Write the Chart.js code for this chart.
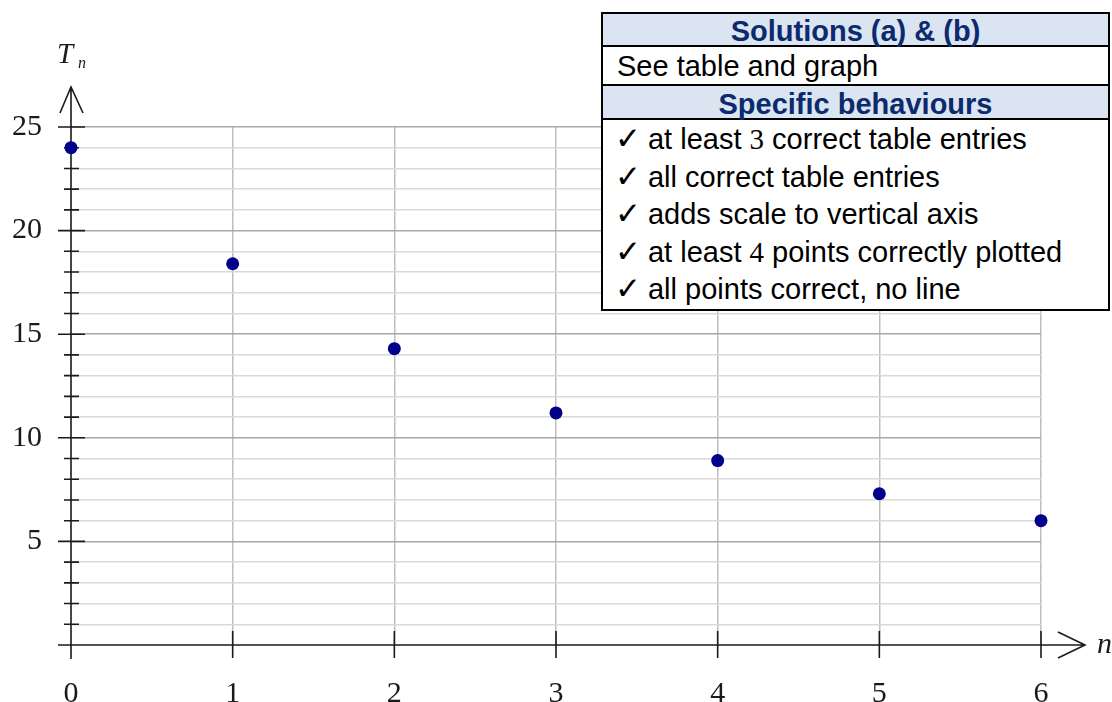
<!DOCTYPE html>
<html>
<head>
<meta charset="utf-8">
<script src="https://cdn.jsdelivr.net/npm/chart.js@4"></script>
<style>
  html, body { margin: 0; padding: 0; background: #fff; }
  #wrap { position: relative; width: 1112px; height: 702px; overflow: hidden; }
  #chart { position: absolute; left: 0; top: 0; }
  #marks {
    position: absolute; left: 601px; top: 12px; width: 505px;
    border: 2px solid #000; background: #fff;
    font-family: "Liberation Sans", Arial, sans-serif; color: #000;
  }
  #marks .hd {
    background: #dbe5f1; color: #0c2a6e; font-weight: bold; text-align: center;
    font-size: 29px; border-bottom: 2px solid #000; white-space: nowrap;
  }
  #marks .row { font-size: 29px; padding-left: 14px; border-bottom: 2px solid #000; white-space: nowrap; }
  #marks .list { font-size: 29px; padding-left: 12px; white-space: nowrap; }
  #marks .list div { height: 37.5px; line-height: 37.5px; }
  #marks .num { font-family: "Liberation Serif", serif; }
  #marks .tick { font-family: "DejaVu Sans", sans-serif; font-size: 31px; margin-right: 7px; }
</style>
</head>
<body>
<div id="wrap">
  <canvas id="chart" width="1112" height="702"></canvas>
  <div id="marks">
    <div class="hd" style="height:31px;line-height:35px;">Solutions (a) &amp; (b)</div>
    <div class="row" style="height:37px;line-height:39px;">See table and graph</div>
    <div class="hd" style="height:32px;line-height:36px;">Specific behaviours</div>
    <div class="list" style="height:189px;">
      <div><span class="tick">✓</span>at least <span class="num">3</span> correct table entries</div>
      <div><span class="tick">✓</span>all correct table entries</div>
      <div><span class="tick">✓</span>adds scale to vertical axis</div>
      <div><span class="tick">✓</span>at least <span class="num">4</span> points correctly plotted</div>
      <div><span class="tick">✓</span>all points correct, no line</div>
    </div>
  </div>
</div>
<script>
// values
const nValues = [0, 1, 2, 3, 4, 5, 6];
const tValues = [24, 18.4, 14.3, 11.2, 8.9, 7.3, 6.0];
const yLabelValues = [5, 10, 15, 20, 25];
const xLabelValues = [0, 1, 2, 3, 4, 5, 6];

const axisFont = { family: "Liberation Serif", size: 30 };

// axes with arrows and tick marks crossing the axis lines
const axesPlugin = {
  id: 'axes',
  beforeDatasetsDraw(chart) {
    const ctx = chart.ctx;
    const xs = chart.scales.x, ys = chart.scales.y;
    const x0 = xs.getPixelForValue(0);
    const y0 = ys.getPixelForValue(0);
    ctx.save();
    ctx.strokeStyle = '#1a1a1a';
    ctx.lineWidth = 1.6;
    ctx.beginPath();
    // vertical axis + arrow head
    ctx.moveTo(x0, y0 + 14); ctx.lineTo(x0, 87);
    ctx.moveTo(x0 - 11, 113); ctx.lineTo(x0, 87); ctx.lineTo(x0 + 12, 113);
    // horizontal axis + arrow head
    ctx.moveTo(x0 - 13, y0); ctx.lineTo(1085, y0);
    ctx.moveTo(1058, y0 - 13); ctx.lineTo(1085, y0); ctx.lineTo(1058, y0 + 13);
    // y tick marks
    for (let v = 1; v <= 25; v++) {
      const py = ys.getPixelForValue(v);
      const big = yLabelValues.includes(v);
      ctx.moveTo(x0 - (big ? 13 : 7), py);
      ctx.lineTo(x0 + (big ? 14 : 8), py);
    }
    // x tick marks
    xLabelValues.forEach(n => {
      if (n === 0) return;
      const px = xs.getPixelForValue(n);
      ctx.moveTo(px, y0 - 14); ctx.lineTo(px, y0 + 13);
    });
    ctx.stroke();

    // axis names
    ctx.fillStyle = '#1a1a1a';
    ctx.textBaseline = 'alphabetic';
    ctx.font = 'italic 29px "Liberation Serif"';
    ctx.fillText('T', 57, 63);
    ctx.font = 'italic 16px "Liberation Serif"';
    ctx.fillText('n', 78, 68);
    ctx.font = 'italic 30px "Liberation Serif"';
    ctx.fillText('n', 1097, 653);
    ctx.restore();
  }
};

new Chart(document.getElementById('chart'), {
  type: 'scatter',
  data: {
    datasets: [{
      data: nValues.map((n, i) => ({ x: n, y: tValues[i] })),
      backgroundColor: '#00008b',
      borderWidth: 0,
      pointRadius: 6.5,
      showLine: false,
      clip: false
    }]
  },
  options: {
    responsive: false,
    animation: false,
    layout: { padding: { left: 0, right: 71, top: 127, bottom: 0 } },
    plugins: { legend: { display: false }, tooltip: { enabled: false } },
    scales: {
      x: {
        type: 'linear', min: 0, max: 6,
        afterFit: s => { s.height = 57; },
        border: { display: false },
        grid: {
          drawTicks: false, lineWidth: 1.5,
          color: c => c.tick && c.tick.value === 0 ? 'rgba(0,0,0,0)' : '#bdbdbd'
        },
        ticks: {
          stepSize: 1, padding: 31, color: '#1a1a1a', font: axisFont,
          callback: v => xLabelValues.includes(v) ? String(v) : ''
        }
      },
      y: {
        type: 'linear', min: 0, max: 25,
        afterFit: s => { s.width = 71; },
        border: { display: false },
        grid: {
          drawTicks: false, lineWidth: 1.5,
          color: c => {
            if (!c.tick || c.tick.value === 0) return 'rgba(0,0,0,0)';
            return yLabelValues.includes(c.tick.value) ? '#a8a8a8' : '#d9d9d9';
          }
        },
        ticks: {
          stepSize: 1, autoSkip: false, padding: 29, color: '#1a1a1a', font: axisFont,
          callback: v => yLabelValues.includes(v) ? String(v) : ''
        }
      }
    }
  },
  plugins: [axesPlugin]
});
</script>
</body>
</html>
